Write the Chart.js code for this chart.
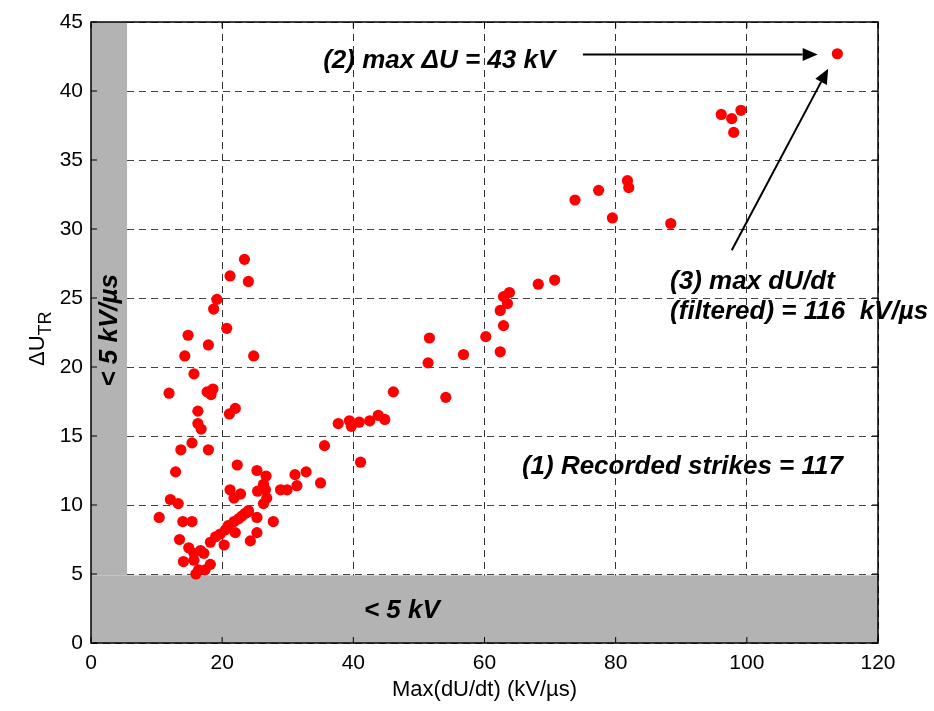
<!DOCTYPE html>
<html>
<head>
<meta charset="utf-8">
<script src="https://cdn.jsdelivr.net/npm/chart.js@4.4.1/dist/chart.umd.min.js"></script>
<style>
  html, body { margin: 0; padding: 0; background: #fff; }
  #wrap { width: 934px; height: 711px; }
</style>
</head>
<body>
<div id="wrap"><canvas id="strikes"></canvas></div>
<script>
// Data: Max(dU/dt) in kV/us and Delta U_TR in kV
const dUdt = [
  113.8, 96.1, 97.7, 99.1, 98.0, 81.8, 82.0, 77.4, 79.5, 88.4,
  73.8, 68.2, 70.7, 63.8, 62.9, 63.5, 62.4, 62.9, 60.2, 62.4,
  51.6, 56.8, 51.4, 46.1, 54.1, 37.7, 39.4, 39.7, 40.9, 42.5,
  43.8, 44.8, 35.6, 41.1, 31.1, 32.8, 31.4, 35.0, 28.9, 29.9,
  23.4, 21.2, 24.0, 19.2, 18.7, 20.7, 14.8, 17.9, 14.3, 24.8,
  15.7, 11.9, 17.7, 18.3, 22.0, 21.1, 16.3, 16.3, 16.8, 15.4,
  13.7, 17.9, 12.9, 22.3, 25.3, 26.7, 26.3, 26.6, 26.8, 26.3,
  25.4, 22.8, 21.8, 21.2, 12.1, 13.3, 10.4, 14.0, 15.4, 27.8,
  24.0, 25.3, 23.5, 22.5, 21.8, 20.5, 19.7, 19.0, 18.2, 20.3,
  22.0, 25.3, 24.3, 13.5, 14.9, 15.7, 16.7, 17.2, 14.1, 15.7,
  16.4, 17.4, 18.2, 24.0, 18.6, 23.0, 20.9, 16.0
];
const deltaU = [
  42.7, 38.3, 38.0, 38.6, 37.0, 33.5, 33.0, 32.8, 30.8, 30.4,
  32.1, 26.0, 26.3, 25.4, 25.1, 24.6, 24.1, 23.0, 22.2, 21.1,
  22.1, 20.9, 20.3, 18.2, 17.8, 15.9, 16.1, 15.7, 16.0, 16.1,
  16.5, 16.2, 14.3, 13.1, 12.2, 12.4, 11.4, 11.6, 11.1, 11.1,
  27.8, 26.6, 26.2, 24.9, 24.2, 22.8, 22.3, 21.6, 20.8, 20.8,
  19.5, 18.1, 18.2, 18.0, 17.0, 16.6, 16.8, 15.9, 15.5, 14.5,
  14.0, 14.0, 12.4, 12.9, 12.5, 12.1, 11.5, 11.1, 10.5, 10.1,
  11.0, 10.8, 10.5, 11.1, 10.4, 10.1, 9.1, 8.8, 8.8, 8.8,
  9.5, 9.1, 9.4, 9.0, 8.8, 8.2, 7.9, 7.7, 7.3, 7.1,
  8.0, 8.0, 7.4, 7.5, 6.9, 6.5, 6.7, 6.5, 5.9, 6.0,
  5.3, 5.3, 5.7, 9.6, 18.4, 9.2, 8.5, 5.0
];
const xTicks = [0, 20, 40, 60, 80, 100, 120];
const yTicks = [0, 5, 10, 15, 20, 25, 30, 35, 40, 45];

// Limits of the grey "below threshold" bands
const bandX = 5.5;
const bandY = 4.9;

// Annotation anchors in data units
const notes = {
  maxU: { x: 35.4, y: 41.7, text: '(2) max \u0394U = 43 kV' },
  maxRate1: { x: 88.3, y: 25.66, text: '(3) max dU/dt' },
  maxRate2: { x: 88.3, y: 23.49, text: '(filtered) = 116  kV/\u00b5s' },
  strikes: { x: 65.7, y: 12.22, text: '(1) Recorded strikes = 117' },
  lowU: { x: 47.4, y: 1.8, text: '< 5 kV' },
  lowRate: { x: 2.8, y: 22.66, text: '< 5 kV/\u00b5s' }
};
const arrows = [
  { x0: 75.0, y0: 42.65, x1: 110.8, y1: 42.65 },
  { x0: 97.7, y0: 28.46, x1: 112.4, y1: 41.62 }
];

const FONT = '"Liberation Sans", Arial, sans-serif';

function drawArrow(ctx, x0, y0, x1, y1) {
  const ang = Math.atan2(y1 - y0, x1 - x0);
  const len = 15, half = 6.5;
  const bx = x1 - len * Math.cos(ang), by = y1 - len * Math.sin(ang);
  ctx.beginPath();
  ctx.moveTo(x0, y0);
  ctx.lineTo(bx, by);
  ctx.stroke();
  ctx.beginPath();
  ctx.moveTo(x1, y1);
  ctx.lineTo(bx + half * Math.sin(ang), by - half * Math.cos(ang));
  ctx.lineTo(bx - half * Math.sin(ang), by + half * Math.cos(ang));
  ctx.closePath();
  ctx.fill();
}

const decor = {
  id: 'decor',
  beforeDatasetsDraw(chart) {
    const { ctx, chartArea: a, scales: { x, y } } = chart;
    const xb = x.getPixelForValue(bandX);
    const yb = y.getPixelForValue(bandY);
    ctx.save();
    ctx.fillStyle = '#b3b3b3';
    ctx.fillRect(a.left, a.top, xb - a.left, yb - a.top);
    ctx.fillRect(a.left, yb, a.right - a.left, a.bottom - yb);
    ctx.restore();
  },
  afterDraw(chart) {
    const { ctx, chartArea: a, scales: { x, y } } = chart;
    ctx.save();

    // plot frame and inward ticks
    ctx.strokeStyle = '#000';
    ctx.lineWidth = 1.5;
    ctx.strokeRect(a.left, a.top, a.right - a.left, a.bottom - a.top);
    ctx.lineWidth = 1;
    ctx.beginPath();
    yTicks.forEach(v => {
      const py = y.getPixelForValue(v);
      ctx.moveTo(a.left, py); ctx.lineTo(a.left + 6, py);
      ctx.moveTo(a.right, py); ctx.lineTo(a.right - 6, py);
    });
    xTicks.forEach(v => {
      const px = x.getPixelForValue(v);
      ctx.moveTo(px, a.bottom); ctx.lineTo(px, a.bottom - 6);
      ctx.moveTo(px, a.top); ctx.lineTo(px, a.top + 6);
    });
    ctx.stroke();

    // annotation texts
    ctx.fillStyle = '#000';
    ctx.font = 'italic bold 26px ' + FONT;
    ctx.textBaseline = 'alphabetic';
    ctx.textAlign = 'left';
    ['maxU', 'maxRate1', 'maxRate2', 'strikes'].forEach(k => {
      const n = notes[k];
      ctx.fillText(n.text, x.getPixelForValue(n.x), y.getPixelForValue(n.y));
    });
    ctx.textAlign = 'center';
    ctx.fillText(notes.lowU.text, x.getPixelForValue(notes.lowU.x), y.getPixelForValue(notes.lowU.y));
    ctx.save();
    ctx.translate(x.getPixelForValue(notes.lowRate.x), y.getPixelForValue(notes.lowRate.y));
    ctx.rotate(-Math.PI / 2);
    ctx.textBaseline = 'middle';
    ctx.fillText(notes.lowRate.text, 0, 0);
    ctx.restore();

    // arrows
    ctx.lineWidth = 2;
    ctx.strokeStyle = '#000';
    arrows.forEach(r => drawArrow(ctx,
      x.getPixelForValue(r.x0), y.getPixelForValue(r.y0),
      x.getPixelForValue(r.x1), y.getPixelForValue(r.y1)));

    // y axis title: Delta U with subscript TR
    ctx.save();
    ctx.translate(44, 366);
    ctx.rotate(-Math.PI / 2);
    ctx.textAlign = 'left';
    ctx.textBaseline = 'alphabetic';
    ctx.font = '22px ' + FONT;
    ctx.fillText('\u0394U', 0, 0);
    const w = ctx.measureText('\u0394U').width;
    ctx.font = '18px ' + FONT;
    ctx.fillText('TR', w, 7);
    ctx.restore();

    ctx.restore();
  }
};

const ctx = document.getElementById('strikes').getContext('2d');
const strikeChart = new Chart(ctx, {
  type: 'scatter',
  data: {
    datasets: [{
      label: 'Recorded strikes',
      data: dUdt.map((v, i) => ({ x: v, y: deltaU[i] })),
      backgroundColor: '#ff0000',
      borderWidth: 0,
      pointRadius: 5.6,
      pointHoverRadius: 5.6
    }]
  },
  options: {
    responsive: true,
    maintainAspectRatio: false,
    animation: false,
    layout: { padding: { top: 22, right: 56, left: 0, bottom: 0 } },
    plugins: {
      legend: { display: false },
      tooltip: { enabled: false }
    },
    scales: {
      x: {
        type: 'linear',
        min: 0, max: 120,
        afterFit: s => { s.height = 68; },
        afterBuildTicks: s => { s.ticks = xTicks.map(v => ({ value: v })); },
        grid: { color: '#333', lineWidth: 1, drawTicks: false },
        border: { display: false, dash: [7, 5] },
        ticks: { color: '#000', padding: 8, font: { family: FONT, size: 21 } },
        title: {
          display: true,
          text: 'Max(dU/dt) (kV/\u00b5s)',
          color: '#000',
          font: { family: FONT, size: 22 },
          padding: { top: 0, bottom: 8 }
        }
      },
      y: {
        type: 'linear',
        min: 0, max: 45,
        afterFit: s => { s.width = 91; },
        afterBuildTicks: s => { s.ticks = yTicks.map(v => ({ value: v })); },
        grid: { color: '#444', lineWidth: 1, drawTicks: false },
        border: { display: false, dash: [7, 5] },
        ticks: { color: '#000', padding: 8, font: { family: FONT, size: 21 } }
      }
    }
  },
  plugins: [decor]
});
</script>
</body>
</html>
